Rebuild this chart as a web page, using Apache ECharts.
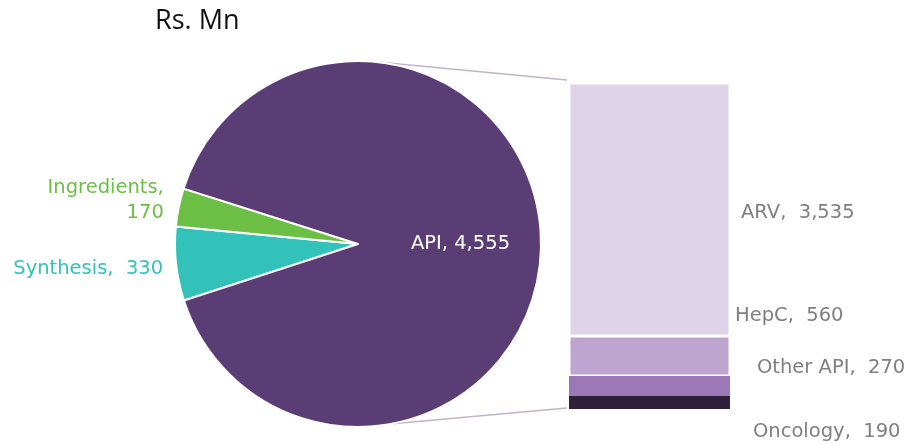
<!DOCTYPE html>
<html><head><meta charset="utf-8">
<script src="https://cdn.jsdelivr.net/npm/echarts@6/dist/echarts.min.js"></script>
<style>html,body{margin:0;padding:0;background:#fff}#c{width:921px;height:445px}</style>
</head><body><div id="c"></div>
<script>
// ---- data ----
const pieNames = ['Synthesis', 'Ingredients', 'API'];
const pieValues = [330, 170, 4555];
const barNames = ['Oncology', 'Other API', 'HepC', 'ARV'];   // bottom -> top
const barValues = [190, 270, 560, 3535];
const unitTitle = 'Rs. Mn';

// ---- styles ----
const pieColors = ['#33C2BA', '#6CBF45', '#5A3D74'];
const pieLabelOffsets = [[0, 5], [-2, -6], [8, 0]];
const barColors = ['#2E1F3A', '#9C78B6', '#BDA5D0', '#DFD3EA'];
const barLabelOffsets = [[18, 30], [22, -18], [0, -40], [6, 3]];
const FONT = 'DejaVu Sans';
const FS = 19.5;
const PIE_CX = 358, PIE_CY = 244, PIE_R = 183;
const GRID = {left: 569, right: 191, top: 83, bottom: 36};

const fmt = v => v.toLocaleString('en-US');
const barTotal = barValues.reduce((a, b) => a + b, 0);

const chart = echarts.init(document.getElementById('c'), null, {renderer: 'canvas'});

const barSeries = barNames.map((n, i) => ({
  name: n, type: 'bar', stack: 'api', barWidth: '100%',
  data: [barValues[i]],
  itemStyle: {color: barColors[i], borderColor: '#fff', borderWidth: i >= 2 ? 1.5 : 0},
  label: {
    show: true, position: 'right', offset: barLabelOffsets[i],
    color: '#7F7F7F', fontSize: FS, fontFamily: FONT,
    formatter: p => p.seriesName + ',  ' + fmt(p.value)
  },
  silent: true
}));

const pieLabelText = p => p.name === 'Ingredients' ? p.name + ',\n' + fmt(p.value)
                      : p.name === 'API' ? p.name + ', ' + fmt(p.value)
                      : p.name + ',  ' + fmt(p.value);

chart.setOption({
  animation: false,
  title: {text: unitTitle, left: 150, top: 3, textStyle: {fontFamily: 'Open Sans', fontSize: 27, fontWeight: 'normal', color: '#111'}},
  grid: GRID,
  xAxis: {type: 'category', data: ['API'], show: false, boundaryGap: true},
  yAxis: {type: 'value', min: 0, max: barTotal, show: false},
  series: [
    {
      type: 'pie', center: [PIE_CX, PIE_CY], radius: [0, PIE_R],
      startAngle: 198, clockwise: true, silent: true,
      data: pieNames.map((n, i) => ({
        name: n, value: pieValues[i],
        itemStyle: {color: pieColors[i]},
        label: n === 'API'
          ? {position: 'inside', color: '#fff', fontSize: FS, formatter: pieLabelText, offset: pieLabelOffsets[i]}
          : {position: 'outside', color: pieColors[i], fontSize: FS, align: 'right', lineHeight: 25, formatter: pieLabelText, offset: pieLabelOffsets[i]}
      })),
      itemStyle: {borderColor: '#fff', borderWidth: 2},
      label: {show: true, fontFamily: FONT, formatter: pieLabelText},
      labelLine: {show: false, length: 4, length2: 4}
    },
    ...barSeries
  ]
});

// connector lines from pie to bar
const topPt = chart.convertToPixel({gridIndex: 0}, [0, barTotal]);
const botPt = chart.convertToPixel({gridIndex: 0}, [0, 0]);
const barLeft = GRID.left - 2;
const a1 = 83.7 * Math.PI / 180, a2 = -79 * Math.PI / 180;
chart.setOption({
  graphic: [
    {type: 'line', shape: {x1: PIE_CX + PIE_R * Math.cos(a1), y1: PIE_CY - PIE_R * Math.sin(a1), x2: barLeft, y2: topPt[1] - 3},
     style: {stroke: '#BFB5C9', lineWidth: 1.5}},
    {type: 'line', shape: {x1: PIE_CX + PIE_R * Math.cos(a2), y1: PIE_CY - PIE_R * Math.sin(a2), x2: barLeft, y2: botPt[1] - 1},
     style: {stroke: '#BFB5C9', lineWidth: 1.5}}
  ]
});
</script></body></html>
